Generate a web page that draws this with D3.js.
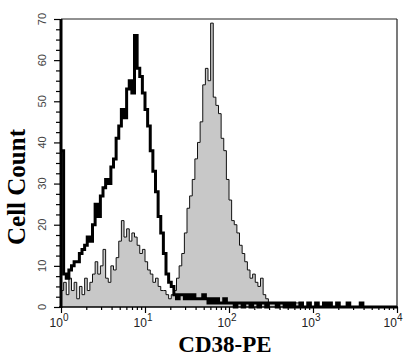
<!DOCTYPE html>
<html>
<head>
<meta charset="utf-8">
<script src="https://cdn.jsdelivr.net/npm/d3@7"></script>
<style>
  body { margin: 0; background: #fff; }
  svg { display: block; }
</style>
</head>
<body>
<svg id="chart" width="406" height="358"></svg>
<script>
// channel layout: 32 bins per decade, 4 decades
const binsPerDecade = 32;
const decadeValues = [1, 10, 100, 1000, 10000];
const decadeExponents = ['0', '1', '2', '3', '4'];
const yTickValues = [0, 10, 20, 30, 40, 50, 60, 70];

// isotype / control histogram (thick black outline)
const blackCounts = [
  38, 8, 7, 9, 10, 11, 11, 13, 14, 15,
  17, 16, 20, 25, 22, 27, 29, 31, 30, 34,
  36, 41, 44, 48, 46, 53, 55, 52, 66, 58,
  56, 52, 48, 44, 38, 33, 28, 22, 18, 13,
  8, 6, 5, 3, 2, 3, 3, 2, 3, 2,
  3, 2, 2, 2, 3, 2, 1, 2, 1, 2,
  1, 1, 2, 1, 1, 1, 0, 1, 1, 0,
  1, 1, 0, 1, 1, 0, 1, 1, 0, 1,
  1, 1, 0, 1, 1, 0, 1, 0, 1, 0,
  0, 1, 0, 0, 1, 0, 0, 1, 0, 0,
  1, 0, 1, 0, 0, 1, 0, 0, 0, 1,
  0, 0, 0, 0, 1, 0, 0, 0, 0, 0,
  0, 0, 0, 0, 0, 0, 0, 0
];

// CD38-PE stained histogram (gray fill)
const grayCounts = [
  4, 6, 3, 7, 4, 6, 2, 5, 3, 7,
  4, 6, 8, 11, 8, 10, 14, 7, 6, 10,
  9, 12, 16, 21, 17, 19, 16, 18, 17, 15,
  13, 14, 11, 9, 8, 6, 7, 5, 4, 4,
  3, 2, 3, 4, 7, 10, 13, 18, 24, 27,
  31, 36, 40, 45, 54, 58, 55, 69, 51, 49,
  47, 41, 38, 31, 26, 21, 20, 18, 15, 13,
  11, 9, 7, 8, 6, 5, 7, 3, 2, 1,
  1, 1, 1, 1, 1, 1, 1, 1, 1, 1,
  1, 0, 0, 0, 0, 0, 0, 0, 0, 0,
  0, 0, 0, 0, 0, 0, 0, 0, 0, 0,
  0, 0, 0, 0, 0, 0, 0, 0, 0, 0,
  0, 0, 0, 0, 0, 0, 0, 0
];

const plotLeft = 61, plotRight = 397, plotTop = 19, plotBottom = 307;

const svg = d3.select('#chart');

const x = d3.scaleLog().domain([1, 10000]).range([plotLeft, plotRight]);
const y = d3.scaleLinear().domain([0, 70]).range([plotBottom, plotTop]);

// bin edges -> step points
const edge = i => Math.pow(10, i / binsPerDecade);
const toSteps = counts => {
  const pts = counts.map((c, i) => ({ x: edge(i), c: c }));
  pts.push({ x: edge(counts.length), c: counts[counts.length - 1] });
  return pts;
};

const area = d3.area()
  .curve(d3.curveStepAfter)
  .x(d => x(d.x))
  .y0(y(0))
  .y1(d => y(d.c));

const line = d3.line()
  .curve(d3.curveStepAfter)
  .x(d => x(d.x))
  .y(d => y(d.c));

const plot = svg.append('g').attr('id', 'plot');

plot.append('path')
  .datum(toSteps(grayCounts))
  .attr('d', area)
  .attr('fill', '#c8c8c8')
  .attr('stroke', 'none');

plot.append('path')
  .datum(toSteps(grayCounts))
  .attr('d', line)
  .attr('fill', 'none')
  .attr('stroke', '#111')
  .attr('stroke-width', 1);

plot.append('path')
  .datum(toSteps(blackCounts))
  .attr('d', line)
  .attr('fill', 'none')
  .attr('stroke', '#000')
  .attr('stroke-width', 3)
  .attr('stroke-linejoin', 'miter');

// frame
svg.append('line')
  .attr('x1', plotLeft).attr('x2', plotRight).attr('y1', plotTop).attr('y2', plotTop)
  .attr('stroke', '#222').attr('stroke-width', 1);
svg.append('line')
  .attr('x1', plotRight).attr('x2', plotRight).attr('y1', plotTop).attr('y2', plotBottom)
  .attr('stroke', '#222').attr('stroke-width', 1.2);

// y axis: ticks every 2.5, labels every 10
const yMinor = d3.range(0, 70.01, 2.5);
const yAxis = svg.append('g')
  .attr('transform', `translate(${plotLeft - 1},0)`)
  .call(d3.axisLeft(y).tickValues(yMinor).tickSize(4).tickFormat(''));
yAxis.select('.domain').remove();
yAxis.selectAll('line').attr('stroke', '#000').attr('stroke-width', 1.2);
yAxis.selectAll('.tick')
  .filter(d => d % 10 === 0)
  .select('line').attr('x2', -6);

svg.append('line')
  .attr('x1', plotLeft).attr('x2', plotLeft).attr('y1', plotTop).attr('y2', plotBottom + 1)
  .attr('stroke', '#000').attr('stroke-width', 3);

svg.append('g')
  .selectAll('text')
  .data(yTickValues)
  .enter()
  .append('text')
  .attr('transform', d => `translate(46,${y(d)}) rotate(-90)`)
  .attr('text-anchor', 'middle')
  .attr('font-family', 'Liberation Sans, Arial, sans-serif')
  .attr('font-size', 11)
  .attr('fill', '#444')
  .text(d => d);

// x axis: log ticks
const xTicks = [];
decadeValues.forEach((d, k) => {
  if (k < decadeValues.length - 1) {
    for (let m = 1; m < 10; m++) xTicks.push(d * m);
  } else {
    xTicks.push(d);
  }
});
const xAxis = svg.append('g')
  .attr('transform', `translate(0,${plotBottom})`)
  .call(d3.axisBottom(x).tickValues(xTicks).tickSize(3).tickFormat(''));
xAxis.select('.domain').remove();
xAxis.selectAll('line').attr('stroke', '#000').attr('stroke-width', 1.2);
xAxis.selectAll('.tick')
  .filter(d => decadeValues.includes(d))
  .select('line').attr('y2', 6);

svg.append('line')
  .attr('x1', plotLeft - 2).attr('x2', plotRight + 1).attr('y1', plotBottom).attr('y2', plotBottom)
  .attr('stroke', '#000').attr('stroke-width', 1.6);

const xLabels = svg.append('g')
  .selectAll('text')
  .data(decadeValues)
  .enter()
  .append('text')
  .attr('x', (d, i) => x(d) - (i === decadeValues.length - 1 ? 4 : 2))
  .attr('y', 327)
  .attr('text-anchor', 'middle')
  .attr('font-family', 'Liberation Sans, Arial, sans-serif')
  .attr('font-size', 12)
  .attr('fill', '#222');
xLabels.append('tspan').text('10');
xLabels.append('tspan')
  .attr('dy', -6)
  .attr('font-size', 10)
  .text((d, i) => decadeExponents[i]);

// axis titles
svg.append('text')
  .attr('transform', 'translate(25,187) rotate(-90)')
  .attr('text-anchor', 'middle')
  .attr('font-family', 'Liberation Serif, Times New Roman, serif')
  .attr('font-weight', 'bold')
  .attr('font-size', 25)
  .attr('fill', '#000')
  .text('Cell Count');

svg.append('text')
  .attr('x', 225)
  .attr('y', 352)
  .attr('text-anchor', 'middle')
  .attr('font-family', 'Liberation Serif, Times New Roman, serif')
  .attr('font-weight', 'bold')
  .attr('font-size', 23)
  .attr('fill', '#000')
  .text('CD38-PE');
</script>
</body>
</html>
